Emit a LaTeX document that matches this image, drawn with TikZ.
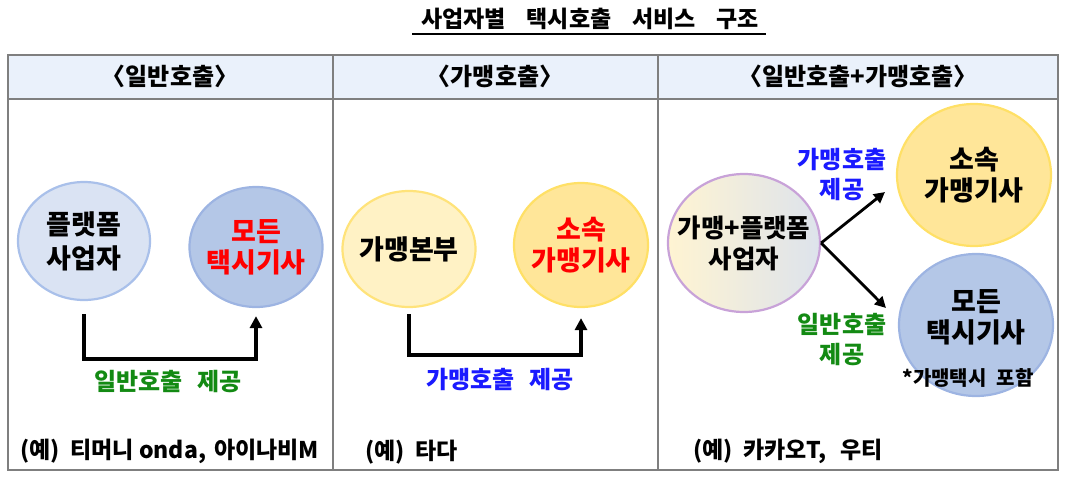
\documentclass[tikz,border=0pt]{standalone}
\usepackage{fontspec}
\setmainfont{Noto Sans CJK KR}
\usetikzlibrary{shapes.geometric,arrows.meta}
\definecolor{hdrfill}{HTML}{EAF1FB}
\definecolor{gridc}{HTML}{7F7F7F}
\definecolor{bluelt}{HTML}{DAE3F3}
\definecolor{bluelte}{HTML}{A9C0EA}
\definecolor{bluemd}{HTML}{B4C7E7}
\definecolor{bluemde}{HTML}{9DB4E2}
\definecolor{yellt}{HTML}{FFF2C5}
\definecolor{yellte}{HTML}{FFE37A}
\definecolor{yelmd}{HTML}{FFE699}
\definecolor{yelmde}{HTML}{FFE066}
\definecolor{purpe}{HTML}{C8A2D8}
\definecolor{gradl}{HTML}{FFF4D2}
\definecolor{gradr}{HTML}{DDE3EC}
\definecolor{txtred}{HTML}{FF0000}
\definecolor{txtblue}{HTML}{1A1AFF}
\definecolor{txtgreen}{HTML}{138A13}
\tikzset{
  gridline/.style={draw=gridc, line width=1.2pt},
  hdr/.style={font=\fontsize{24}{26}\selectfont\bfseries},
  circ/.style={ellipse, line width=2.2pt, inner sep=0pt},
  ctext/.style={font=\fontsize{27}{31}\selectfont\bfseries, align=center},
  lbl/.style={font=\fontsize{24}{30}\selectfont\bfseries, align=center},
  ex/.style={font=\fontsize{23}{25}\selectfont\bfseries, anchor=west},
  elbow/.style={line width=4.5pt, -{Triangle[length=12pt,width=12pt]}},
  diag/.style={line width=2.8pt, -{Triangle[length=11pt,width=11pt]}},
}
\begin{document}
\begin{tikzpicture}[x=1pt,y=-1pt]
\useasboundingbox (0,0) rectangle (1069,482);
% title
\node[font=\fontsize{23}{25}\selectfont\bfseries] (title) at (590,19) {사업자별\hspace{0.9em}택시호출\hspace{0.9em}서비스\hspace{0.9em}구조};
\draw[line width=1.2pt] (412,34) -- (766,34);
% table
\fill[hdrfill] (8,55) rectangle (1058,99);
\draw[gridline] (8,55) rectangle (1058,470);
\draw[gridline] (8,99) -- (1058,99);
\draw[gridline] (333,55) -- (333,470);
\draw[gridline] (658,55) -- (658,470);
\node[hdr] (h1) at (170,76) {〈일반호출〉};
\node[hdr] (h2) at (495,76) {〈가맹호출〉};
\node[hdr] (h3) at (858,76) {〈일반호출+가맹호출〉};
% column 1
\node[circ, fill=bluelt, draw=bluelte, minimum width=132pt, minimum height=118pt] (p1) at (84,241) {};
\node[ctext] (p1t) at (p1.center) {플랫폼\\[3pt]사업자};
\node[circ, fill=bluemd, draw=bluemde, minimum width=133pt, minimum height=120pt] (d1) at (256,247) {};
\node[ctext, text=txtred] (d1t) at (d1.center) {모든\\택시기사};
\draw[elbow] ([yshift=-13pt]p1.south) -- ++(0,45) -| ([yshift=-8pt]d1.south);
\node[lbl, text=txtgreen] (l1) at (168,382) {일반호출\hspace{0.6em}제공};
\node[ex] (e1) at (17,451) {(예)\hspace{0.45em}티머니 onda,\hspace{0.35em}아이나비M};
% column 2
\node[circ, fill=yellt, draw=yellte, minimum width=133pt, minimum height=116pt] (f2) at (409,249) {};
\node[ctext] (f2t) at (f2.center) {가맹본부};
\node[circ, fill=yelmd, draw=yelmde, minimum width=134pt, minimum height=124pt] (d2) at (581,245) {};
\node[ctext, text=txtred] (d2t) at (d2.center) {소속\\가맹기사};
\draw[elbow] ([yshift=-6pt]f2.south) -- ++(0,41) -| ([yshift=-10pt]d2.south);
\node[lbl, text=txtblue] (l2) at (500,380) {가맹호출\hspace{0.6em}제공};
\node[ex] (e2) at (362,452) {(예)\hspace{0.45em}타다};
% column 3
\node[circ, left color=gradl, right color=gradr, draw=purpe, minimum width=152pt, minimum height=138pt] (c3) at (744,243) {};
\node[ctext, font=\fontsize{25.5}{31}\selectfont\bfseries] (c3t) at (c3.center) {가맹+플랫폼\\사업자};
\node[circ, fill=yelmd, draw=yelmde, minimum width=154pt, minimum height=142pt] (s3) at (974,175) {};
\node[ctext] (s3t) at (s3.center) {소속\\가맹기사};
\node[circ, fill=bluemd, draw=bluemde, minimum width=154pt, minimum height=142pt] (a3) at (976,325) {};
\node[ctext] (a3t) at ([yshift=8pt]a3.center) {모든\\택시기사};
\node[font=\fontsize{20}{22}\selectfont\bfseries] (n3) at (968,378) {*가맹택시\hspace{0.5em}포함};
\coordinate (t3) at (885,192);
\coordinate (b3) at (886,308);
\draw[diag] (c3.east) -- (t3);
\draw[diag] (c3.east) -- (b3);
\node[lbl, text=txtblue] (l3a) at (842,175) {가맹호출\\제공};
\node[lbl, text=txtgreen] (l3b) at (842,340) {일반호출\\제공};
\node[ex] (e3) at (690,451) {(예)\hspace{0.45em}카카오T,\hspace{0.6em}우티};
\end{tikzpicture}
\end{document}
